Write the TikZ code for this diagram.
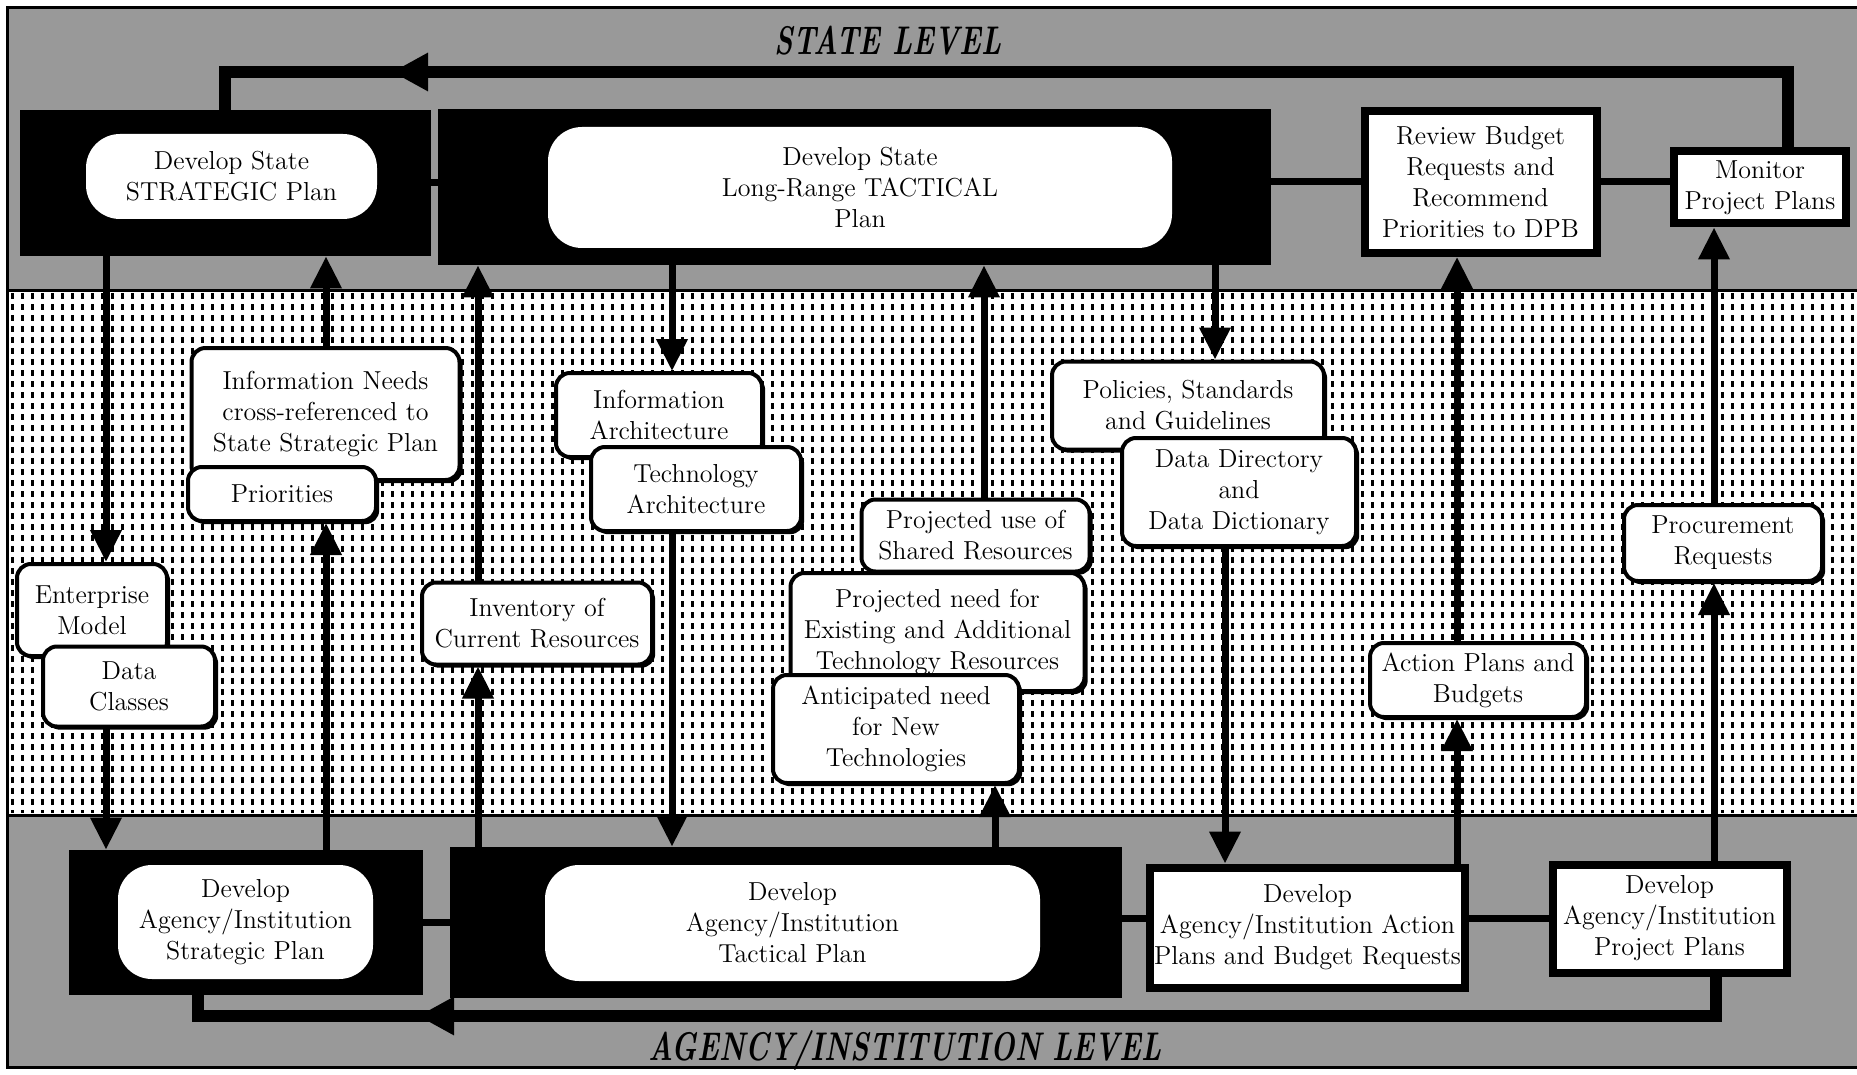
\documentclass[tikz,border=0pt]{standalone}
\usepackage{tikz}
\usetikzlibrary{arrows.meta,shadows}
\newcommand{\lvlfont}{\fontsize{20}{24}\selectfont\bfseries\itshape}
\newcommand{\boxfont}{\fontsize{13}{15.5}\selectfont}

\tikzset{
  band/.style={fill=black!40,draw=black,line width=1.5pt},
  blackbox/.style={fill=black,inner sep=0pt},
  planpill/.style={fill=white,rounded corners=17pt,align=center,font=\boxfont,inner sep=2pt},
  infobox/.style={draw,line width=2pt,fill=white,rounded corners=7pt,align=center,font=\boxfont,inner sep=2pt,
    drop shadow={shadow xshift=1.6pt,shadow yshift=-1.6pt,fill=black,opacity=1}},
  taskbox/.style={draw,line width=4pt,fill=white,align=center,font=\boxfont,inner sep=2pt},
  conn/.style={line width=3.5pt},
  flow/.style={conn,-{Triangle[width=15pt,length=16pt]}},
  loopline/.style={line width=6pt},
  looparrow/.style={loopline,-{Triangle[width=18pt,length=18pt]}},
  dotcol/.style={line width=1.5pt,dash pattern=on 3pt off 2.5pt},
}

\begin{document}
\begin{tikzpicture}[x=0.5pt,y=-0.5pt]
  \useasboundingbox (0,0) rectangle (1857,1075);
  \clip (0,0) rectangle (1857,1075);
  \fill[white] (0,0) rectangle (1857,1075);

  % the three levels
  \draw[band] (7,8) rectangle (1880,290);
  \draw[fill=white,line width=1.5pt] (7,290) rectangle (1880,815);
  \foreach \x in {12,22,...,1852}
    \draw[dotcol] (\x,293) -- (\x,813);
  \draw[band] (7,815) rectangle (1880,1067);

  \node[font=\lvlfont] (statelvl) at (888,41) {\scalebox{0.72}[1]{STATE LEVEL}};
  \node[font=\lvlfont] (agencylvl) at (905,1050) {\scalebox{0.72}[1]{AGENCY/INSTITUTION LEVEL}};

  % state level
  \node[blackbox,minimum width=205.5pt,minimum height=73pt] (stsbox) at (225.5,183) {};
  \node[planpill,minimum width=145.5pt,minimum height=42.5pt] (stspill) at (231.5,176.5) {Develop State\\STRATEGIC Plan};
  \node[blackbox,minimum width=416.5pt,minimum height=78pt] (sttbox) at (854.5,187) {};
  \node[planpill,minimum width=312pt,minimum height=60.5pt] (sttpill) at (860,187.5) {Develop State\\Long-Range TACTICAL\\Plan};
  \node[taskbox,minimum width=116pt,minimum height=71pt] (review) at (1480.5,182) {Review Budget\\Requests and\\Recommend\\Priorities to DPB};
  \node[taskbox,minimum width=86pt,minimum height=36pt] (monitor) at (1760,187.5) {Monitor\\Project Plans};

  % products passed between the levels
  \node[infobox,minimum width=134pt,minimum height=66pt] (infoneeds) at (325.5,414) {Information Needs\\cross-referenced to\\State Strategic Plan};
  \node[infobox,minimum width=94pt,minimum height=27pt] (prio) at (282,494) {Priorities};
  \node[infobox,minimum width=75pt,minimum height=46pt] (entmodel) at (92,610) {Enterprise\\Model};
  \node[infobox,minimum width=86pt,minimum height=40pt] (dclasses) at (129,686.5) {Data\\Classes};
  \node[infobox,minimum width=115pt,minimum height=41pt] (inventory) at (537,623.5) {Inventory of\\Current Resources};
  \node[infobox,minimum width=103pt,minimum height=42pt] (infoarch) at (659,415) {Information\\Architecture};
  \node[infobox,minimum width=105pt,minimum height=42pt] (techarch) at (696,489) {Technology\\Architecture};
  \node[infobox,minimum width=114pt,minimum height=36pt] (shareduse) at (975.5,535.5) {Projected use of\\Shared Resources};
  \node[infobox,minimum width=147pt,minimum height=59pt] (projneed) at (937.5,632) {Projected need for\\Existing and Additional\\Technology Resources};
  \node[infobox,minimum width=123pt,minimum height=54pt] (newtech) at (896,729) {Anticipated need\\for New\\Technologies};
  \node[infobox,minimum width=136pt,minimum height=44pt] (policies) at (1188,405.5) {Policies, Standards\\and Guidelines};
  \node[infobox,minimum width=117pt,minimum height=54pt] (datadir) at (1239,492) {Data Directory\\and\\Data Dictionary};
  \node[infobox,minimum width=99pt,minimum height=38pt] (procure) at (1723,543) {Procurement\\Requests};
  \node[infobox,minimum width=108pt,minimum height=37pt] (actplans) at (1478,680) {Action Plans and\\Budgets};

  % agency/institution level
  \node[blackbox,minimum width=177pt,minimum height=72.5pt] (agsbox) at (246,922.5) {};
  \node[planpill,minimum width=127.5pt,minimum height=57pt] (agspill) at (245.5,922) {Develop\\Agency/Institution\\Strategic Plan};
  \node[blackbox,minimum width=336pt,minimum height=75.5pt] (agtbox) at (786,922.5) {};
  \node[planpill,minimum width=247.5pt,minimum height=58pt] (agtpill) at (792.5,923) {Develop\\Agency/Institution\\Tactical Plan};
  \node[taskbox,minimum width=157pt,minimum height=60pt] (agaction) at (1307.5,927.5) {Develop\\Agency/Institution Action\\Plans and Budget Requests};
  \node[taskbox,minimum width=117pt,minimum height=54pt] (agproject) at (1669.5,918.5) {Develop\\Agency/Institution\\Project Plans};

  % columns of the vertical flows
  \coordinate (colA) at (106,0);
  \coordinate (colB) at (326,0);
  \coordinate (colC) at (478,0);
  \coordinate (colD) at (672,0);
  \coordinate (colE) at (984,0);
  \coordinate (colEb) at (995,0);
  \coordinate (colF) at (1215,0);
  \coordinate (colFb) at (1225,0);
  \coordinate (colG) at (1457,0);
  \coordinate (colH) at (1714,0);

  \draw[flow] (stsbox.south -| colA) -- (entmodel.north -| colA);
  \draw[flow] (dclasses.south -| colA) -- (agsbox.north -| colA);
  \draw[flow] (agsbox.north -| colB) -- (prio.south -| colB);
  \draw[flow] (infoneeds.north -| colB) -- (stsbox.south -| colB);
  \draw[flow] (agtbox.north -| colC) -- (inventory.south -| colC);
  \draw[flow] (inventory.north -| colC) -- (sttbox.south -| colC);
  \draw[flow] (sttbox.south -| colD) -- (infoarch.north -| colD);
  \draw[flow] (techarch.south -| colD) -- (agtbox.north -| colD);
  \draw[flow] (shareduse.north -| colE) -- (sttbox.south -| colE);
  \draw[flow] (agtbox.north -| colEb) -- (newtech.south -| colEb);
  \draw[flow] (sttbox.south -| colF) -- (policies.north -| colF);
  \draw[flow] (datadir.south -| colFb) -- (agaction.north -| colFb);
  \draw[flow] (agaction.north -| colG) -- (actplans.south -| colG);
  \draw[flow] (actplans.north -| colG) -- (review.south -| colG);
  \draw[flow] (agproject.north -| colH) -- (procure.south -| colH);
  \draw[flow] (procure.north -| colH) -- (monitor.south -| colH);

  % links inside a level
  \draw[conn] (stsbox.east) -- (stsbox.east -| sttbox.west);
  \draw[conn] (review.west -| sttbox.east) -- (review.west);
  \draw[conn] (review.east) -- (review.east -| monitor.west);
  \draw[conn] (agsbox.east) -- (agsbox.east -| agtbox.west);
  \draw[conn] (agproject.west -| agtbox.east) -- (agproject.west -| agaction.west);
  \draw[conn] (agproject.west -| agaction.east) -- (agproject.west);

  % feedback loops
  \coordinate (topL) at (225,72);
  \coordinate (topR) at (1788,72);
  \coordinate (topTip) at (392,72);
  \draw[loopline] (monitor.north -| topR) -- (topR) -- (topL) -- (stsbox.north -| topL);
  \draw[looparrow] (topR) -- (topTip);
  \coordinate (botL) at (198,1016);
  \coordinate (botR) at (1716,1016);
  \coordinate (botTip) at (418,1016);
  \draw[loopline] (agproject.south -| botR) -- (botR) -- (botL) -- (agsbox.south -| botL);
  \draw[looparrow] (botR) -- (botTip);
\end{tikzpicture}
\end{document}
